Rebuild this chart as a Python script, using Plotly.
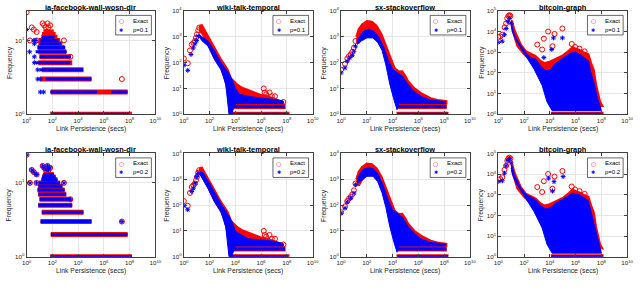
import plotly.graph_objects as go

RED = "#ff0000"
BLUE = "#0000ff"

titles = ["ia-facebook-wall-wosn-dir", "wiki-talk-temporal", "sx-stackoverflow", "bitcoin-graph"]
row_labels = ["p=0.1", "p=0.2"]
x_tick_vals = [1, 1e2, 1e4, 1e6, 1e8, 1e10]
x_tick_text = ["10<sup>0</sup>", "10<sup>2</sup>", "10<sup>4</sup>", "10<sup>6</sup>", "10<sup>8</sup>", "10<sup>10</sup>"]
y_ranges = [[0, 1.4], [0, 4], [0, 4], [0, 5]]
y_tick_vals = [[1, 10], [1, 10, 100, 1e3, 1e4], [1, 10, 100, 1e3, 1e4], [1, 10, 100, 1e3, 1e4, 1e5]]

# ---------------- ia-facebook-wall-wosn-dir ----------------
fb_exact_x = [1, 1.8, 2.5, 3.6, 6, 5.9, 17.5, 23, 31, 42, 50, 67, 26, 35, 90, 790, 2500, 2.5e7]
fb_exact_y = [24, 10, 15, 14, 13, 10, 17, 16, 15, 17, 15, 16, 12, 11, 11, 10, 6, 3]
fb_exact_band_lvl = [1, 2, 3, 4, 5, 6, 7, 8, 9, 10, 11, 12, 13]
fb_exact_band_x0 = [68, 75, 12, 15, 8, 10, 8, 7, 8, 9, 14, 16, 20]
fb_exact_band_x1 = [1.5e8, 7e7, 1.1e5, 2.6e4, 3500, 2600, 1200, 900, 600, 400, 250, 180, 130]

fb_p01_x = [1, 1.7, 3.6, 4, 5.4, 4, 4, 7.3, 7.3, 11.7, 11.7, 21, 21, 37]
fb_p01_y = [14, 7, 10, 9, 10, 6, 5, 4, 3, 3, 2, 2, 11, 10]
fb_p01_band_lvl = [1, 2, 2, 3, 4, 5, 6, 7, 8, 9, 10, 11]
fb_p01_band_x0 = [80, 68, 3.7e6, 30, 10, 5, 10, 5, 7, 10, 12, 20]
fb_p01_band_x1 = [9e7, 3e5, 7e7, 1.1e5, 2.5e4, 2500, 2800, 1300, 1000, 500, 300, 150]

fb_p02_x = [1, 1.8, 2.5, 3.6, 6, 5.9, 17.5, 23, 31, 42, 50, 67, 26, 35, 90, 790, 2500, 2.5e7]
fb_p02_y = [24, 10, 15, 14, 13, 10, 17, 16, 15, 17, 15, 16, 12, 11, 11, 10, 6, 3]
fb_p02_band_lvl = [1, 2, 3, 4, 5, 6, 7, 8, 9, 10, 11, 12, 13]
fb_p02_band_x0 = [68, 75, 12, 15, 8, 10, 8, 7, 8, 9, 14, 16, 20]
fb_p02_band_x1 = [1.5e8, 7e7, 1.1e5, 2.6e4, 3500, 2600, 1200, 900, 600, 400, 250, 180, 130]

# ---------------- wiki-talk-temporal ----------------
wiki_exact_x = [1, 2, 3, 4.1, 5.5, 7.3, 8.7, 10.3, 13, 15.6, 1.6e6, 1.9e6, 2.5e6, 4.5e6, 6.8e6, 1.2e7, 5.3e7]
wiki_exact_y = [144, 94, 295, 500, 580, 680, 910, 1230, 1770, 2250, 10, 7, 6, 7, 5, 5, 3]
wiki_exact_cloud_x = [15.6, 20, 25, 40, 76, 245, 780, 2500, 4500, 8000, 14000, 30000, 83000, 3e5, 8.7e5, 3e6, 9e6, 3e7, 5e7,
                      5e7, 3500, 2500, 1500, 800, 250, 76, 30, 15.6]
wiki_exact_cloud_y = [2250, 2750, 2800, 1800, 1070, 370, 130, 54, 25, 18, 14, 11, 9, 7, 5.7, 5, 4.2, 3.4, 3,
                      2.7, 2.7, 8, 25, 55, 140, 500, 1200, 1800]
wiki_exact_band_lvl = [1, 2]
wiki_exact_band_x0 = [3500, 3500]
wiki_exact_band_x1 = [1.6e8, 8e7]

wiki_p01_x = [1, 2, 3.6, 5.5, 7.3, 9.8, 13]
wiki_p01_y = [79, 50, 205, 370, 530, 720, 1060]
wiki_p01_cloud_x = [15.6, 25, 76, 245, 780, 2500, 3500, 6000, 10000, 20000, 1e5, 1e6, 1e7, 5e7,
                    5e7, 1e4, 5000, 3200, 2500, 1800, 780, 245, 76, 25, 15.6]
wiki_p01_cloud_y = [1230, 1000, 680, 275, 97, 43, 35, 20, 10, 6, 5, 4.2, 3.8, 3.3,
                    2.6, 2.6, 1, 1, 3, 14, 53, 130, 430, 700, 1000]
wiki_p01_band_lvl = [1, 2]
wiki_p01_band_x0 = [3500, 3500]
wiki_p01_band_x1 = [1.3e8, 7e7]

wiki_p02_x = [1, 2, 4.1, 5.5, 7.3, 10, 13]
wiki_p02_y = [94, 66, 335, 450, 700, 1260, 1700]
wiki_p02_cloud_x = [18, 30, 76, 245, 780, 2500, 3500, 6000, 10000, 30000, 1e5, 1e6, 1e7, 5e7,
                    5e7, 1e4, 5000, 3200, 2500, 1800, 780, 245, 76, 30, 18]
wiki_p02_cloud_y = [2000, 1800, 850, 300, 110, 45, 35, 20, 10, 7, 5, 4.5, 4, 3.3,
                    2.6, 2.6, 1, 1, 3, 14, 53, 130, 430, 900, 1500]
wiki_p02_band_lvl = [1, 2]
wiki_p02_band_x0 = [3500, 3500]
wiki_p02_band_x1 = [1.3e8, 7e7]

# ---------------- sx-stackoverflow ----------------
so_exact_x = [1, 2, 3, 4.1, 5.5, 7.3, 9.8, 13]
so_exact_y = [53, 89, 143, 177, 205, 260, 370, 680]
so_exact_cloud_x = [15, 23, 42, 100, 245, 580, 1400, 3400, 8000, 14000, 30000, 56000, 1e5, 1.6e5, 5e5, 1.6e6, 9e6, 3e7, 1.5e8,
                    1.5e8, 2.5e4, 1.5e4, 8000, 3000, 1000, 400, 150, 60, 25, 15]
so_exact_cloud_y = [1000, 1950, 3000, 4050, 3800, 2600, 1230, 370, 130, 62, 45, 46, 30, 19, 10, 6.6, 4.2, 3.6, 3.2,
                    2.7, 2.7, 10, 40, 200, 800, 1500, 1800, 1300, 600, 600]
so_exact_band_lvl = [1, 2]
so_exact_band_x0 = [2e4, 2.6e4]
so_exact_band_x1 = [2.2e8, 1.6e8]

so_p01_x = [1, 2, 3, 4.6, 7.3, 9.8, 13]
so_p01_y = [40, 62, 113, 150, 190, 275, 430]
so_p01_cloud_x = [17, 23, 56, 135, 330, 790, 1900, 4500, 10000, 25000, 56000, 1.6e5, 5e5, 1.6e6, 9e6, 1.3e8,
                  1.3e8, 3e4, 2.2e4, 1.2e4, 6000, 3000, 1500, 700, 300, 100, 40, 17]
so_p01_cloud_y = [680, 910, 1650, 1950, 1650, 1050, 430, 130, 55, 40, 30, 14, 7.6, 4.9, 3.6, 3.1,
                  2.6, 2.6, 1.5, 4, 15, 80, 300, 600, 900, 900, 700, 500]
so_p01_band_lvl = [1, 2]
so_p01_band_x0 = [2.3e4, 2.3e4]
so_p01_band_x1 = [2e8, 1.5e8]

so_p02_x = [1, 2, 3, 5.5, 10, 13]
so_p02_y = [49, 76, 130, 185, 290, 600]
so_p02_cloud_x = [17, 30, 60, 135, 330, 790, 1900, 4500, 10000, 25000, 56000, 1.6e5, 5e5, 1.6e6, 9e6, 1.3e8,
                  1.3e8, 3e4, 2.2e4, 1.2e4, 6000, 3000, 1500, 700, 300, 100, 40, 17]
so_p02_cloud_y = [940, 1700, 2500, 2800, 2500, 1500, 550, 160, 65, 45, 35, 15, 8, 5, 3.6, 3.1,
                  2.6, 2.6, 1.5, 4, 15, 80, 300, 800, 1300, 1300, 900, 700]
so_p02_band_lvl = [1, 2]
so_p02_band_x0 = [2.3e4, 2.3e4]
so_p02_band_x1 = [2e8, 1.5e8]

# ---------------- bitcoin-graph ----------------
btc_exact_x = [1, 1.4, 2, 3, 4, 4.9, 6.1, 7.3, 8.7, 1050, 2500, 3400, 7300, 16000, 23000, 94000, 5e5, 9e5, 2e6, 5e6]
btc_exact_y = [5400, 5800, 7000, 16000, 25000, 44000, 57000, 62000, 56000, 2350, 1350, 4500, 10000, 1950, 7600, 14000, 2500, 1800, 1500, 1100]
btc_exact_cloud_x = [10.3, 13, 17.6, 31, 56, 135, 330, 790, 1900, 4000, 1e4, 3e4, 1e5, 3e5, 6e5, 1e6, 2e6, 4e6, 1e7, 1.6e7, 2.5e7, 4e7, 6e7, 8e7, 1.2e8,
                     1.2e8, 1.5e4, 5000, 2000, 500, 100, 30, 15, 10.3]
btc_exact_cloud_y = [36000, 25000, 12000, 4900, 2350, 1140, 870, 650, 380, 300, 350, 500, 700, 1200, 1800, 1500, 1300, 1000, 800, 300, 150, 25, 8, 4, 2.5,
                     2.5, 2.5, 20, 100, 300, 800, 2000, 8000, 30000]
btc_exact_band_lvl = [1, 2]
btc_exact_band_x0 = [1.2e4, 1.4e4]
btc_exact_band_x1 = [1.5e8, 9e7]

btc_p01_x = [1, 2, 3, 4, 5.4, 7.3, 9.8, 19000, 94000, 14000, 3400]
btc_p01_y = [3000, 3400, 7000, 14000, 30000, 44000, 25000, 4900, 4900, 1360, 550]
btc_p01_cloud_x = [9.8, 13, 17.6, 31, 56, 135, 330, 790, 1900, 5000, 1.2e4, 2.3e4, 6e4, 2e5, 5e5, 1e6, 2e6, 5e6, 1e7, 1.4e7, 2e7, 3e7, 5e7, 7e7, 1e8,
                   1e8, 1.5e4, 6000, 2500, 600, 150, 60, 25, 12, 9.8]
btc_p01_cloud_y = [25000, 15000, 7000, 3500, 2000, 950, 550, 460, 220, 127, 150, 260, 400, 700, 950, 1000, 800, 500, 380, 130, 60, 25, 6, 3, 1.5,
                   1.5, 1.5, 4, 25, 150, 600, 1500, 3500, 10000, 20000]
btc_p01_band_lvl = [1, 2]
btc_p01_band_x0 = [1.3e4, 1.4e4]
btc_p01_band_x1 = [1.3e8, 9e7]

btc_p02_x = [1, 2, 3, 4, 5.5, 7.3, 9.8, 7900, 21000, 1.07e5, 16000]
btc_p02_y = [4300, 4700, 11000, 25000, 45000, 55000, 35000, 6300, 4300, 7500, 1500]
btc_p02_cloud_x = [9.8, 13, 17.6, 31, 56, 135, 330, 790, 1900, 5000, 1.2e4, 3e4, 1e5, 3e5, 6e5, 1e6, 2e6, 5e6, 1e7, 1.4e7, 2e7, 3e7, 5e7, 7e7, 1e8,
                   1e8, 1.5e4, 6000, 2500, 600, 150, 60, 25, 12, 9.8]
btc_p02_cloud_y = [30000, 20000, 9000, 4000, 2100, 1050, 750, 560, 300, 200, 250, 400, 600, 900, 1200, 1100, 1000, 700, 500, 200, 80, 30, 8, 3.5, 1.5,
                   1.5, 1.5, 4, 25, 150, 600, 1500, 3500, 10000, 20000]
btc_p02_band_lvl = [1, 2]
btc_p02_band_x0 = [1.3e4, 1.4e4]
btc_p02_band_x1 = [1.3e8, 9e7]


def series(px, py, cx=None, cy=None, bl=None, b0=None, b1=None):
    return dict(px=px, py=py, cx=cx, cy=cy, bl=bl, b0=b0, b1=b1)


data = [
    dict(exact=series(fb_exact_x, fb_exact_y, None, None, fb_exact_band_lvl, fb_exact_band_x0, fb_exact_band_x1),
         p01=series(fb_p01_x, fb_p01_y, None, None, fb_p01_band_lvl, fb_p01_band_x0, fb_p01_band_x1),
         p02=series(fb_p02_x, fb_p02_y, None, None, fb_p02_band_lvl, fb_p02_band_x0, fb_p02_band_x1)),
    dict(exact=series(wiki_exact_x, wiki_exact_y, wiki_exact_cloud_x, wiki_exact_cloud_y, wiki_exact_band_lvl, wiki_exact_band_x0, wiki_exact_band_x1),
         p01=series(wiki_p01_x, wiki_p01_y, wiki_p01_cloud_x, wiki_p01_cloud_y, wiki_p01_band_lvl, wiki_p01_band_x0, wiki_p01_band_x1),
         p02=series(wiki_p02_x, wiki_p02_y, wiki_p02_cloud_x, wiki_p02_cloud_y, wiki_p02_band_lvl, wiki_p02_band_x0, wiki_p02_band_x1)),
    dict(exact=series(so_exact_x, so_exact_y, so_exact_cloud_x, so_exact_cloud_y, so_exact_band_lvl, so_exact_band_x0, so_exact_band_x1),
         p01=series(so_p01_x, so_p01_y, so_p01_cloud_x, so_p01_cloud_y, so_p01_band_lvl, so_p01_band_x0, so_p01_band_x1),
         p02=series(so_p02_x, so_p02_y, so_p02_cloud_x, so_p02_cloud_y, so_p02_band_lvl, so_p02_band_x0, so_p02_band_x1)),
    dict(exact=series(btc_exact_x, btc_exact_y, btc_exact_cloud_x, btc_exact_cloud_y, btc_exact_band_lvl, btc_exact_band_x0, btc_exact_band_x1),
         p01=series(btc_p01_x, btc_p01_y, btc_p01_cloud_x, btc_p01_cloud_y, btc_p01_band_lvl, btc_p01_band_x0, btc_p01_band_x1),
         p02=series(btc_p02_x, btc_p02_y, btc_p02_cloud_x, btc_p02_cloud_y, btc_p02_band_lvl, btc_p02_band_x0, btc_p02_band_x1)),
]

W, H = 640, 293
col_px = [(22, 153), (182, 313), (342, 473), (502, 633)]
row_px = [(7, 113), (153, 259)]

fig = go.Figure()
FONT = "Liberation Sans, Arial, sans-serif"


def add_series(s, color, cloud_lw, band_w, symbol, msize, xa, ya):
    if s["cx"] is not None:
        fig.add_trace(go.Scatter(x=s["cx"], y=s["cy"], mode="lines", fill="toself", fillcolor=color,
                                 line=dict(color=color, width=cloud_lw), hoverinfo="skip",
                                 showlegend=False, xaxis=xa, yaxis=ya))
    bx, by = [], []
    for lv, a, b in zip(s["bl"], s["b0"], s["b1"]):
        bx += [a, b, None]
        by += [lv, lv, None]
    fig.add_trace(go.Scatter(x=bx, y=by, mode="lines", line=dict(color=color, width=band_w),
                             hoverinfo="skip", showlegend=False, xaxis=xa, yaxis=ya))
    fig.add_trace(go.Scatter(x=s["px"], y=s["py"], mode="markers",
                             marker=dict(symbol=symbol, size=msize, color=color, line=dict(color=color, width=1)),
                             hoverinfo="skip", showlegend=False, xaxis=xa, yaxis=ya))


annotations = []
shapes = []
layout_axes = {}
for r in range(2):
    for c in range(4):
        idx = r * 4 + c + 1
        sfx = "" if idx == 1 else str(idx)
        xa, ya = "x" + sfx, "y" + sfx
        d = data[c]
        add_series(d["exact"], RED, 2, 5, "circle-open", 5, xa, ya)
        add_series(d["p01" if r == 0 else "p02"], BLUE, 1, 3, "asterisk-open", 4, xa, ya)

        x0p, x1p = col_px[c]
        y0p, y1p = row_px[r]
        xdom = [x0p / W, x1p / W]
        ydom = [1 - y1p / H, 1 - y0p / H]
        axis_common = dict(type="log", showgrid=True, gridcolor="#e6e6e6", gridwidth=1,
                           showline=True, linecolor="#404040", linewidth=1, mirror="ticks",
                           ticks="inside", ticklen=3, tickcolor="#404040", zeroline=False,
                           tickfont=dict(family=FONT, size=6.2, color="#262626"))
        layout_axes["xaxis" + sfx] = dict(axis_common, domain=xdom, range=[0, 10], anchor=ya,
                                          tickvals=x_tick_vals, ticktext=x_tick_text)
        yt = y_tick_vals[c]
        layout_axes["yaxis" + sfx] = dict(axis_common, domain=ydom, range=y_ranges[c], anchor=xa,
                                          tickvals=yt,
                                          ticktext=["10<sup>%d</sup>" % i for i in range(len(yt))])
        xc = (xdom[0] + xdom[1]) / 2
        annotations.append(dict(text="<b>%s</b>" % titles[c], x=xc, y=1 - (y0p - 3.8) / H, xref="paper", yref="paper",
                                xanchor="center", yanchor="middle", showarrow=False,
                                font=dict(family=FONT, size=7.4, color="#000000")))
        annotations.append(dict(text="Link Persistence (secs)", x=xc, y=1 - (y1p + 15) / H, xref="paper", yref="paper",
                                xanchor="center", yanchor="middle", showarrow=False,
                                font=dict(family=FONT, size=6.8, color="#262626")))
        annotations.append(dict(text="Frequency", x=(x0p - 17.5) / W, y=1 - ((y0p + y1p) / 2) / H, xref="paper", yref="paper",
                                xanchor="center", yanchor="middle", showarrow=False, textangle=-90,
                                font=dict(family=FONT, size=6.8, color="#262626")))
        dref_x, dref_y = xa + " domain", ya + " domain"
        shapes.append(dict(type="rect", xref=dref_x, yref=dref_y, x0=0.692, x1=0.969, y0=0.767, y1=0.956,
                           fillcolor="white", line=dict(color="#000000", width=0.6), layer="above"))
        annotations.append(dict(text="○", x=0.735, y=0.905, xref=dref_x, yref=dref_y, xanchor="center", yanchor="middle",
                                showarrow=False, font=dict(family="DejaVu Sans", size=6, color=RED)))
        annotations.append(dict(text="✱", x=0.735, y=0.818, xref=dref_x, yref=dref_y, xanchor="center", yanchor="middle",
                                showarrow=False, font=dict(family="DejaVu Sans", size=5, color=BLUE)))
        annotations.append(dict(text="Exact", x=0.81, y=0.905, xref=dref_x, yref=dref_y, xanchor="left", yanchor="middle",
                                showarrow=False, font=dict(family=FONT, size=6, color="#000000")))
        annotations.append(dict(text=row_labels[r], x=0.81, y=0.818, xref=dref_x, yref=dref_y, xanchor="left", yanchor="middle",
                                showarrow=False, font=dict(family=FONT, size=6, color="#000000")))

fig.update_layout(width=W, height=H, margin=dict(l=0, r=0, t=0, b=0), paper_bgcolor="white",
                  plot_bgcolor="white", showlegend=False, annotations=annotations, shapes=shapes, **layout_axes)

fig.write_html("out.html", config={"displayModeBar": False, "staticPlot": True},
               post_script="document.body.style.margin='0';document.body.style.overflow='hidden';")
